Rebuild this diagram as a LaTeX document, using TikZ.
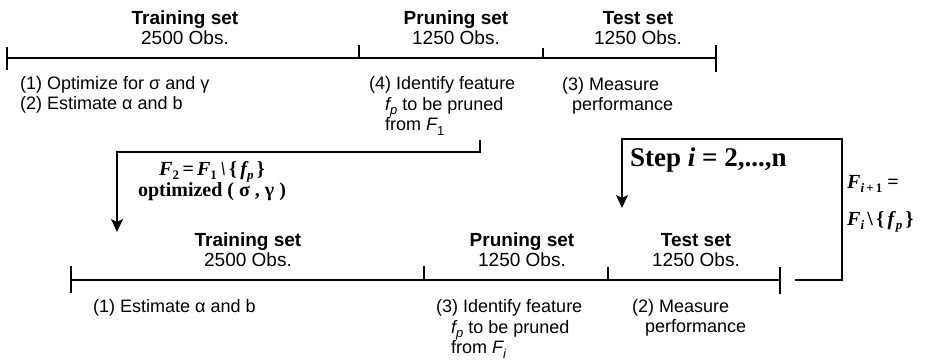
\documentclass[tikz,border=0pt]{standalone}
\usepackage{fontspec}
\setmainfont{Liberation Serif}
\setsansfont{Liberation Sans}
\usetikzlibrary{positioning,arrows.meta,calc}

% lowered index for F_1, f_p and the like
\newcommand{\lowidx}[1]{\raisebox{-0.45ex}{\fontsize{13}{13}\selectfont #1}}

\begin{document}
\begin{tikzpicture}[x=1pt,y=-1pt,
  axis/.style={line width=1.4pt},
  loopline/.style={line width=1.8pt},
  setlabel/.style={align=center,inner sep=0pt,font=\sffamily\fontsize{19}{20}\selectfont},
  todo/.style={align=left,anchor=west,inner sep=0pt,font=\sffamily\fontsize{18}{20.5}\selectfont},
  formula/.style={inner sep=0pt,font=\bfseries\fontsize{20}{21}\selectfont},
  tip/.style={-{Stealth[width=12pt,length=13pt,inset=3pt]}}]
\useasboundingbox (0,0) rectangle (930,363);

% first pass: data split with F_1
\draw[axis] (7,47) -- (7,70);
\draw[axis] (7,58) -- (716,58);
\draw[axis] (359,45) -- (359,58);
\draw[axis] (543,48) -- (543,58);
\draw[axis] (716,45) -- (716,72);

\node[setlabel] (tr1) at (185,28) {\textbf{Training set}\\2500 Obs.};
\node[setlabel] (pr1) at (456,28) {\textbf{Pruning set}\\1250 Obs.};
\node[setlabel] (te1) at (638,28) {\textbf{Test set}\\1250 Obs.};

\node[todo] (do1) at (20,95) {(1) Optimize for σ and γ\\(2) Estimate α and b};
\node[todo] (do4) at (369,106) {(4) Identify feature\\\hspace*{16pt}{\itshape f}\lowidx{\itshape p} to be pruned\\\hspace*{16pt}from {\itshape F}\lowidx{1}};
\node[todo] (do3) at (562,96) {(3) Measure\\\hspace*{10pt}performance};

% pruned feature set handed to the next pass
\coordinate (out1) at (480,140);
\coordinate (in2) at (117,232);
\draw[loopline,tip] (out1) -- ++(0,12) -| (in2);
\node[formula,align=center] (upd) at (212,181) {\itshape F\lowidx{\upshape 2}\,=\,F\lowidx{\upshape 1}\,\textbackslash\,{\upshape\{}\,f\lowidx{p}\,{\upshape\}}\\optimized ( σ , γ )};

% later passes
\draw[axis] (71,266) -- (71,293);
\draw[axis] (71,280) -- (780,280);
\draw[axis] (424,266) -- (424,280);
\draw[axis] (608,267) -- (608,280);
\draw[axis] (780,267) -- (780,294);

\node[setlabel] (tr2) at (248,250) {\textbf{Training set}\\2500 Obs.};
\node[setlabel] (pr2) at (522,250) {\textbf{Pruning set}\\1250 Obs.};
\node[setlabel] (te2) at (696,250) {\textbf{Test set}\\1250 Obs.};

\node[todo] (do1b) at (93,308) {(1) Estimate α and b};
\node[todo] (do3b) at (436,329) {(3) Identify feature\\\hspace*{15pt}{\itshape f}\lowidx{\itshape p} to be pruned\\\hspace*{15pt}from {\itshape F}\lowidx{\itshape i}};
\node[todo] (do2b) at (632,318) {(2) Measure\\\hspace*{13pt}performance};

% loop back over i
\coordinate (back) at (795,280);
\coordinate (into) at (622,208);
\draw[loopline,tip] (back) -- ++(47,0) -- ++(0,-141) -| (into);
\node[anchor=west,inner sep=0pt,font=\bfseries\fontsize{27}{27}\selectfont] (step) at (630,160) {Step \textit{i} = 2,...,n};
\node[formula,anchor=west] (nxt) at (847,184) {\textit{F}\lowidx{\textit{i}\,+\,1} =};
\node[formula,anchor=west] (nxtb) at (847,222) {\textit{F}\lowidx{\textit{i}}\,\textbackslash\,\{\,\textit{f}\lowidx{\textit{p}}\,\}};
\end{tikzpicture}
\end{document}
